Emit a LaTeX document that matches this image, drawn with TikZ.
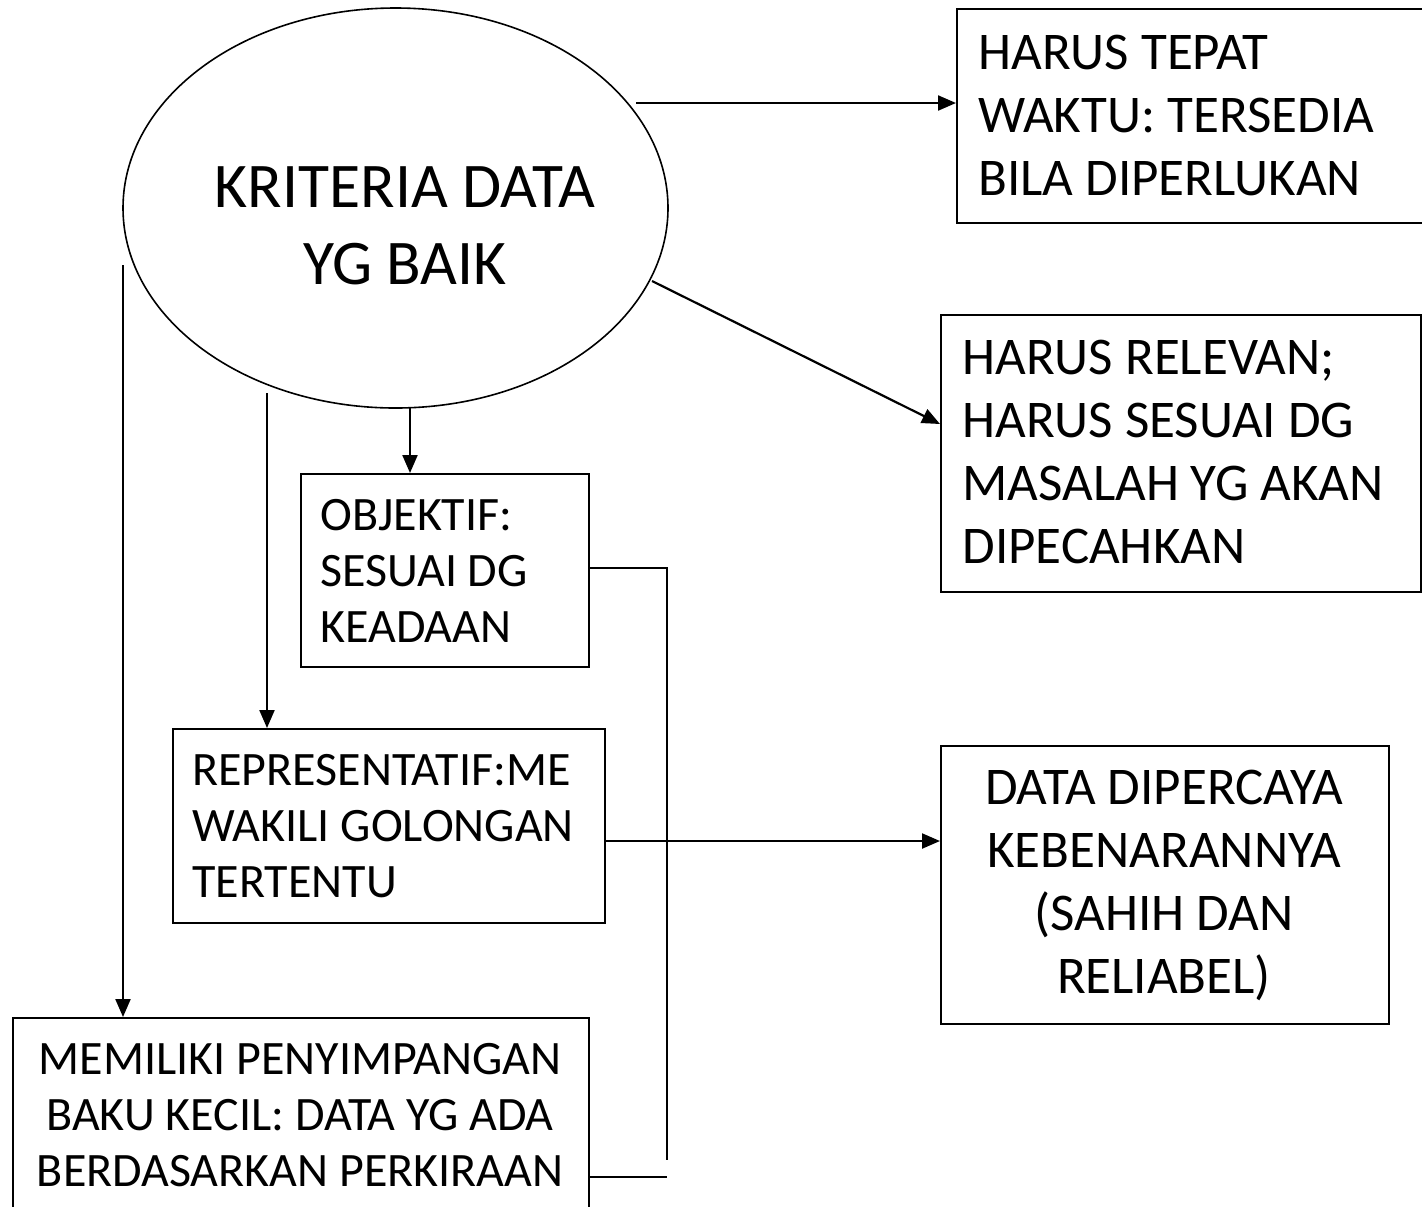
\documentclass[tikz,border=0pt]{standalone}
\usepackage{fontspec}
\setmainfont{Carlito}
\usetikzlibrary{shapes.geometric,arrows.meta}
\begin{document}
\begin{tikzpicture}[x=0.5pt,y=-0.5pt,
  box/.style={draw, line width=1.1pt, rectangle, inner sep=0pt, anchor=north west},
  bigtxt/.style={font=\fontsize{26.5}{31.5}\selectfont, inner sep=0pt, align=left, anchor=west},
  smalltxt/.style={font=\fontsize{24}{28}\selectfont, inner sep=0pt, align=left, anchor=west},
  hugetxt/.style={font=\fontsize{31.8}{38.5}\selectfont, inner sep=0pt, align=center},
  arr/.style={line width=1.1pt, -{Triangle[length=9pt,width=7.5pt]}},
  ln/.style={line width=1.1pt}]
\useasboundingbox (0,0) rectangle (1422,1206);
\clip (0,0) rectangle (1422,1206);

% main ellipse
\node[ellipse, draw, line width=0.8pt, minimum width=272.5pt, minimum height=200pt, inner sep=0pt] (e) at (395.5,208) {};
\node[hugetxt] (te) at (405,226) {KRITERIA DATA\\YG BAIK};

% boxes
\node[box, minimum width=234pt, minimum height=107pt] (b1) at (956,8) {};
\node[box, minimum width=240pt, minimum height=138.5pt] (b2) at (940,314) {};
\node[box, minimum width=144pt, minimum height=96.5pt] (b3) at (300,473) {};
\node[box, minimum width=216pt, minimum height=97pt] (b4) at (172,728) {};
\node[box, minimum width=288pt, minimum height=100pt] (b5) at (12,1017) {};
\node[box, minimum width=224pt, minimum height=139pt] (b6) at (940,745) {};

% texts
\node[bigtxt] (t1) at (978,115) {HARUS TEPAT\\WAKTU: TERSEDIA\\BILA DIPERLUKAN};
\node[bigtxt] (t2) at (962,452) {HARUS RELEVAN;\\HARUS SESUAI DG\\MASALAH YG AKAN\\DIPECAHKAN};
\node[smalltxt] (t3) at (320,571) {OBJEKTIF:\\SESUAI DG\\KEADAAN};
\node[smalltxt] (t4) at (192,826) {REPRESENTATIF:ME\\WAKILI GOLONGAN\\TERTENTU};
\node[smalltxt, anchor=center, align=center] (t5) at (300,1115) {MEMILIKI PENYIMPANGAN\\BAKU KECIL: DATA YG ADA\\BERDASARKAN PERKIRAAN};
\node[bigtxt, anchor=center, align=center] (t6) at (1164,885) {DATA DIPERCAYA\\KEBENARANNYA\\(SAHIH DAN\\RELIABEL)};

% connectors
\coordinate (s1) at (636,103);
\draw[arr] (s1) -- (s1 -| b1.west);
\coordinate (s2) at (652,281);
\coordinate (e2) at (940,424);
\draw[arr] (s2) -- (e2 -| b2.west);
\coordinate (s3) at (410,408);
\draw[arr] (s3) -- (s3 |- b3.north);
\coordinate (s4) at (267,393);
\draw[arr] (s4) -- (s4 |- b4.north);
\coordinate (s5) at (123,265);
\draw[arr] (s5) -- (s5 |- b5.north);
\coordinate (m4) at (0,841);
\draw[arr] (m4 -| b4.east) -- (m4 -| b6.west);
\coordinate (j1) at (667,568);
\coordinate (j2) at (667,1160);
\coordinate (j3) at (667,1177);
\draw[ln] (j1 -| b3.east) -- (j1) -- (j2);
\draw[ln] (j3 -| b5.east) -- (j3);
\end{tikzpicture}
\end{document}
